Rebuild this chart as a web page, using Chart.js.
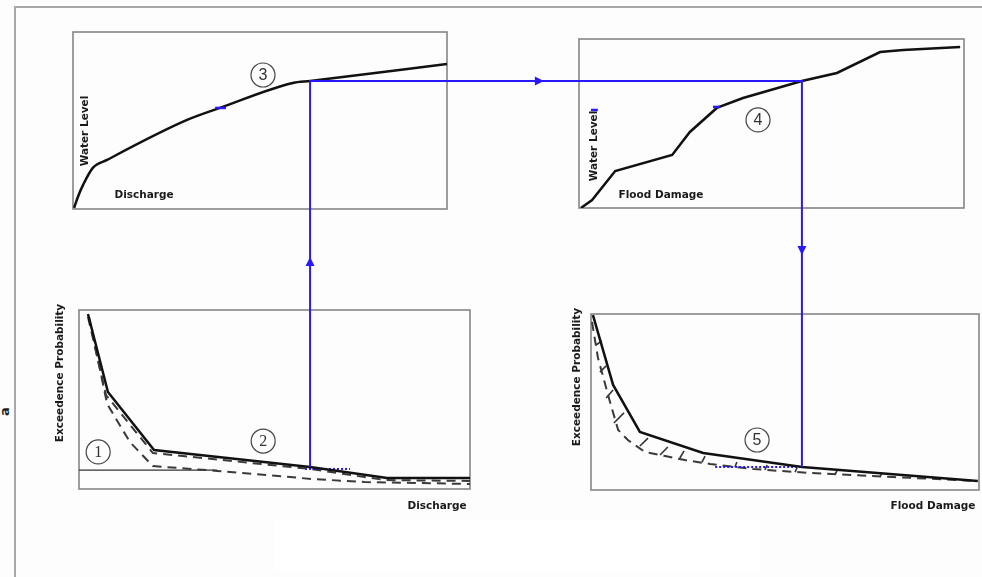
<!DOCTYPE html>
<html>
<head>
<meta charset="utf-8">
<script src="https://cdn.jsdelivr.net/npm/chart.js@4.4.1/dist/chart.umd.min.js"></script>
<style>
  html, body { margin: 0; padding: 0; background: #fdfdfd; }
  #stage { position: relative; width: 982px; height: 577px; overflow: hidden; }
  #stage canvas { position: absolute; left: 0; top: 0; }
  #frame { position: absolute; left: 14px; top: 6px; width: 990px; height: 590px;
           border-left: 2px solid #a8a8a8; border-top: 2px solid #a8a8a8; }
  #blank { position: absolute; left: 274px; top: 521px; width: 486px; height: 49px; background: #fff; }
  #stray { position: absolute; left: 0px; top: 404px; font: bold 13px "DejaVu Sans", sans-serif;
           color: #222; transform: rotate(-90deg); }
</style>
</head>
<body>
<div id="stage">
  <div id="frame"></div>
  <div id="blank"></div>
  <div id="stray">a</div>
  <canvas id="rating" width="982" height="577"></canvas>
  <canvas id="stageDamage" width="982" height="577"></canvas>
  <canvas id="flowFreq" width="982" height="577"></canvas>
  <canvas id="damageFreq" width="982" height="577"></canvas>
</div>
<script>
// all values are in percent of each panel's axis range (0-100)

// panel (3): rating curve, discharge -> water level
const ratingQ = [0.3, 1.3, 2.7, 5.3, 9.1, 30.5, 39.3, 58.8, 63.4, 100];
const ratingH = [0.6, 6.8, 13.6, 23.2, 27.7, 50.3, 57.1, 71.2, 72.3, 81.9];

// panel (4): stage-damage curve, flood damage -> water level
const damageD = [0.5, 3.4, 9.4, 24.2, 28.8, 35.8, 42.6, 57.9, 67.0, 78.2, 84.2, 99.0];
const damageH = [0, 4.7, 21.9, 31.4, 45.0, 59.2, 65.1, 75.1, 79.9, 92.3, 93.5, 95.3];

// panels (1)/(2): discharge exceedence probability
const flowQ = [2.3, 7.4, 19.2, 59.1, 78.8, 100];
const flowP = [97.8, 54.2, 21.8, 12.3, 6.1, 6.1];
const flowUpperQ = [2.3, 6.9, 18.9, 59.1, 78.3, 100];
const flowUpperP = [96.1, 52.5, 20.1, 11.2, 5.0, 4.5];
const flowLowerQ = [2.6, 7.2, 13.0, 18.9, 35.3, 59.6, 73.1, 100];
const flowLowerP = [95.5, 47.5, 26.3, 12.8, 10.1, 5.6, 3.9, 2.8];
const flowBaseQ = [0, 35.3];
const flowBaseP = [10.6, 10.6];

// panel (5): flood damage exceedence probability
const lossD = [0.5, 5.7, 12.6, 28.9, 54.4, 99.7];
const lossP = [99.4, 59.7, 33.0, 21.0, 13.1, 5.1];
const lossLowerD = [0.26, 1.8, 4.9, 7.0, 9.5, 13.9, 19.1, 24.2, 30.7, 41.8, 56.4, 77.8, 99.5];
const lossLowerP = [95.5, 75.0, 50.0, 34.1, 28.4, 21.6, 19.3, 17.0, 14.8, 11.9, 9.7, 7.4, 5.1];
const hatchD0 = [1.3, 2.3, 3.9, 5.9, 12.6, 17.8, 22.9, 28.6, 37.1, 44.8, 52.6, 62.9, 74.5];
const hatchP0 = [82.4, 67.0, 52.3, 38.1, 25.0, 19.9, 18.2, 15.9, 13.1, 11.4, 10.2, 9.1, 8.0];
const hatchD1 = [2.8, 3.9, 5.7, 8.5, 14.7, 19.8, 24.0, 29.4, 37.6, 45.4, 53.1, 63.4, 75.0];
const hatchP1 = [84.7, 70.5, 56.8, 43.8, 29.5, 24.4, 22.2, 19.3, 15.9, 14.2, 12.5, 10.8, 9.1];

// the worked example traced by the blue arrows
const pickQ = 59.1, pickP = 12.3;   // on flow frequency curve
const pickH = 72.3;                 // water level on rating curve
const pickD = 57.9;                 // damage on stage-damage curve
const pickLossP = 13.1;             // probability on damage frequency curve

const BLUE = "rgb(40, 24, 250)";
const FONT = '"DejaVu Sans", "Liberation Sans", sans-serif';

function pts(xs, ys) {
  return xs.map((x, i) => ({ x: x, y: ys[i] }));
}

function solid(xs, ys) {
  return { data: pts(xs, ys), showLine: true, borderColor: "#111", borderWidth: 2.5, pointRadius: 0, tension: 0 };
}

function dashed(xs, ys) {
  return { data: pts(xs, ys), showLine: true, borderColor: "#3a3a3a", borderWidth: 2, borderDash: [9, 6], pointRadius: 0 };
}

function blueDots(xs, ys) {
  return { data: pts(xs, ys), showLine: true, borderColor: BLUE, borderWidth: 2, borderDash: [2, 2], pointRadius: 0 };
}

function decoPlugin(texts, circles) {
  return {
    id: "deco",
    beforeDatasetsDraw(chart) {
      const { ctx, chartArea: a } = chart;
      ctx.save();
      ctx.strokeStyle = "#858585";
      ctx.lineWidth = 1.6;
      ctx.strokeRect(a.left, a.top, a.right - a.left, a.bottom - a.top);
      ctx.restore();
    },
    afterDatasetsDraw(chart) {
      const { ctx, scales } = chart;
      ctx.save();
      ctx.fillStyle = "#1a1a1a";
      ctx.font = "bold 10.5px " + FONT;
      ctx.textAlign = "center";
      ctx.textBaseline = "middle";
      texts.forEach(t => {
        ctx.save();
        ctx.translate(t.x, t.y);
        if (t.rot) ctx.rotate(-Math.PI / 2);
        ctx.fillText(t.text, 0, 0);
        ctx.restore();
      });
      circles.forEach(c => {
        const cx = scales.x.getPixelForValue(c.x);
        const cy = scales.y.getPixelForValue(c.y);
        ctx.beginPath();
        ctx.arc(cx, cy, 12, 0, Math.PI * 2);
        ctx.strokeStyle = "#444";
        ctx.lineWidth = 1.2;
        ctx.stroke();
        ctx.fillStyle = "#333";
        ctx.font = c.serif ? '16px "Liberation Serif", serif' : '16px "Liberation Sans", sans-serif';
        ctx.fillText(c.label, cx, cy + 1);
      });
      ctx.restore();
    }
  };
}

function makePanel(id, box, datasets, texts, circles, extra) {
  const plugins = [decoPlugin(texts, circles)];
  if (extra) plugins.push(extra);
  return new Chart(document.getElementById(id), {
    type: "scatter",
    data: { datasets: datasets },
    options: {
      responsive: false,
      animation: false,
      events: [],
      layout: { padding: { left: box[0], top: box[1], right: 982 - box[2], bottom: 577 - box[3] } },
      scales: {
        x: { type: "linear", min: 0, max: 100, display: false },
        y: { type: "linear", min: 0, max: 100, display: false }
      },
      plugins: { legend: { display: false }, tooltip: { enabled: false } }
    },
    plugins: plugins
  });
}

const rating = makePanel("rating", [73, 32, 447, 209],
  [
    { data: pts([38.0, 40.9], [57.1, 57.1]), showLine: true, borderColor: BLUE, borderWidth: 2.5, pointRadius: 0 },
    Object.assign(solid(ratingQ, ratingH), { cubicInterpolationMode: "monotone" })
  ],
  [
    { text: "Water Level", x: 85, y: 131, rot: true },
    { text: "Discharge", x: 144, y: 195 }
  ],
  [{ label: "3", x: 50.8, y: 75.7 }]
);

const stageDamage = makePanel("stageDamage", [579, 39, 964, 208],
  [
    { data: pts([34.8, 36.6], [59.8, 59.8]), showLine: true, borderColor: BLUE, borderWidth: 2.5, pointRadius: 0 },
    { data: pts([3.1, 4.9], [58.0, 58.0]), showLine: true, borderColor: BLUE, borderWidth: 2.5, pointRadius: 0 },
    solid(damageD, damageH)
  ],
  [
    { text: "Water Level", x: 594, y: 146, rot: true },
    { text: "Flood Damage", x: 661, y: 195 }
  ],
  [{ label: "4", x: 46.5, y: 52.1 }]
);

const flowFreq = makePanel("flowFreq", [79, 310, 470, 489],
  [
    solid(flowQ, flowP),
    blueDots([57.8, 69.3], [11.2, 11.2]),
    dashed(flowUpperQ, flowUpperP),
    dashed(flowLowerQ, flowLowerP),
    { data: pts(flowBaseQ, flowBaseP), showLine: true, borderColor: "#333", borderWidth: 1.2, pointRadius: 0 }
  ],
  [
    { text: "Exceedence Probability", x: 60, y: 373, rot: true },
    { text: "Discharge", x: 437, y: 506 }
  ],
  [
    { label: "1", x: 4.9, y: 20.7, serif: true },
    { label: "2", x: 47.1, y: 26.8, serif: true }
  ]
);

function arrowHead(ctx, x, y, dir) {
  // dir: unit vector of the arrow direction
  const len = 9, half = 4.5;
  const [dx, dy] = dir;
  ctx.beginPath();
  ctx.moveTo(x + dx * len / 2, y + dy * len / 2);
  ctx.lineTo(x - dx * len / 2 - dy * half, y - dy * len / 2 + dx * half);
  ctx.lineTo(x - dx * len / 2 + dy * half, y - dy * len / 2 - dx * half);
  ctx.closePath();
  ctx.fill();
}

const connector = {
  id: "connector",
  afterDraw(chart) {
    const ctx = chart.ctx;
    const x0 = flowFreq.scales.x.getPixelForValue(pickQ);
    const y0 = flowFreq.scales.y.getPixelForValue(pickP);
    const y1 = rating.scales.y.getPixelForValue(pickH);
    const x2 = stageDamage.scales.x.getPixelForValue(pickD);
    const y3 = chart.scales.y.getPixelForValue(pickLossP);
    ctx.save();
    ctx.strokeStyle = BLUE;
    ctx.fillStyle = BLUE;
    ctx.lineWidth = 2;
    ctx.beginPath();
    ctx.moveTo(x0, y0);
    ctx.lineTo(x0, y1);
    ctx.lineTo(x2, y1);
    ctx.lineTo(x2, y3);
    ctx.stroke();
    const upY = rating.chartArea.bottom + 0.52 * (flowFreq.chartArea.top - rating.chartArea.bottom);
    arrowHead(ctx, x0, upY, [0, -1]);
    const rightX = rating.chartArea.right + 0.7 * (stageDamage.chartArea.left - rating.chartArea.right);
    arrowHead(ctx, rightX, y1, [1, 0]);
    const downY = stageDamage.chartArea.bottom + 0.4 * (chart.chartArea.top - stageDamage.chartArea.bottom);
    arrowHead(ctx, x2, downY, [0, 1]);
    ctx.restore();
  }
};

const hatch = hatchD0.map((d, i) => ({
  data: [{ x: d, y: hatchP0[i] }, { x: hatchD1[i], y: hatchP1[i] }],
  showLine: true, borderColor: "#333", borderWidth: 1.6, pointRadius: 0
}));

const damageFreq = makePanel("damageFreq", [591, 314, 979, 490],
  [
    solid(lossD, lossP),
    blueDots([32.0, 54.4], [13.1, 13.1]),
    dashed(lossLowerD, lossLowerP)
  ].concat(hatch),
  [
    { text: "Exceedence Probability", x: 577, y: 377, rot: true },
    { text: "Flood Damage", x: 933, y: 506 }
  ],
  [{ label: "5", x: 42.8, y: 28.4 }],
  connector
);
</script>
</body>
</html>
